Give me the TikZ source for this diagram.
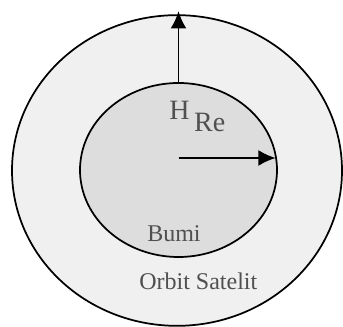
\documentclass[tikz,border=0pt]{standalone}
\usepackage{fontspec}
\setmainfont{Liberation Serif}
\usepackage{xcolor}
\definecolor{orbitgray}{RGB}{240,240,240}
\definecolor{bumigray}{RGB}{221,221,221}
\definecolor{labelgray}{RGB}{80,80,80}
\usetikzlibrary{arrows.meta, positioning, shapes.geometric, calc}

\begin{document}
\begin{tikzpicture}[x=0.75pt,y=0.75pt,
    lbl/.style={text=labelgray,font=\fontsize{18}{20}\selectfont,inner sep=0pt},
    vec/.style={line width=1.4pt,-{Latex[length=13pt,width=12pt]}}]
  \useasboundingbox (0,0) rectangle (343,327);
  % orbit and earth
  \node[ellipse,draw,line width=1.3pt,fill=orbitgray,minimum width=247.5pt,minimum height=233pt,inner sep=0pt,outer sep=0pt] (orbit) at (177,156.5) {};
  \node[ellipse,draw,line width=1.3pt,fill=bumigray,minimum width=147.75pt,minimum height=130.5pt,inner sep=0pt,outer sep=0pt] (bumi) at (178.5,157) {};
  % arrows
  \coordinate (re) at ([yshift=9pt]bumi.center);
  \draw[vec] (bumi.north) -- ([yshift=3pt]bumi.north |- orbit.north);
  \draw[vec] (re) -- ($(re -| bumi.east)+(-1pt,0)$);
  % labels
  \node[lbl,anchor=base west,font=\fontsize{21}{24}\selectfont] (hre) at (169,207) {H\,\raisebox{-0.42em}{Re}};
  \node[lbl,anchor=base west] (bumitxt) at (147,85) {Bumi};
  \node[lbl,anchor=base west] (orbittxt) at (139,37) {Orbit Satelit};
\end{tikzpicture}
\end{document}
